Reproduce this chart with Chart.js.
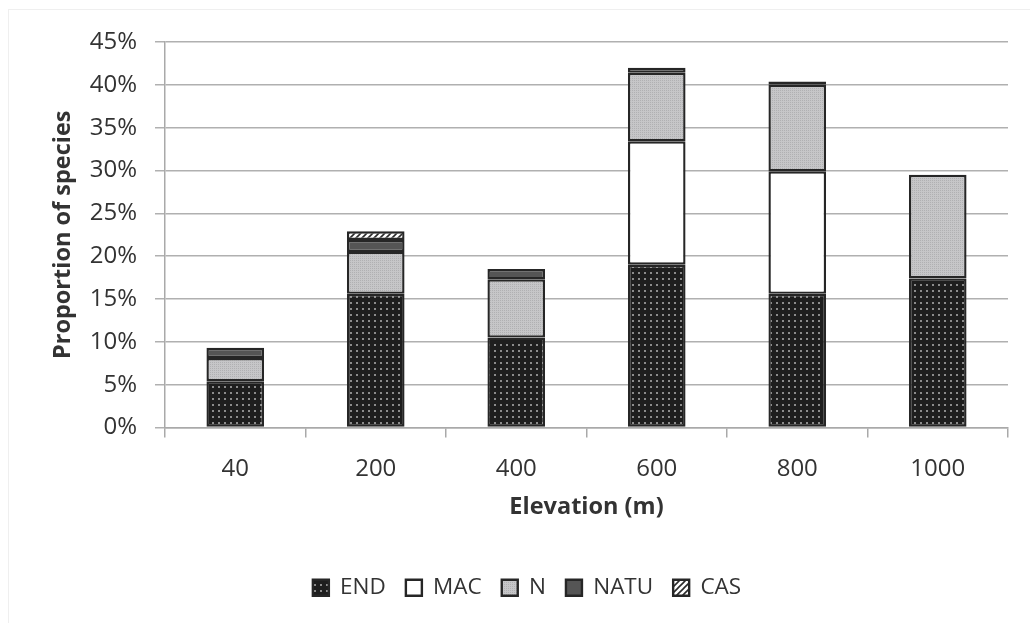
<!DOCTYPE html>
<html>
<head>
<meta charset="utf-8">
<title>Proportion of species by elevation</title>
<script src="https://cdn.jsdelivr.net/npm/chart.js@4.4.1/dist/chart.umd.min.js"></script>
<style>
    html, body { margin: 0; padding: 0; background: #fff; }
    #wrap { position: relative; width: 1030px; height: 623px; }
    #frame {
        position: absolute; left: 8px; top: 9px; right: -10px; bottom: -10px;
        border-top: 1px solid #efefef; border-left: 1px solid #efefef;
        pointer-events: none;
    }
    canvas { display: block; }
</style>
</head>
<body>
<div id="wrap">
    <canvas id="chart" width="1030" height="623"></canvas>
    <div id="frame"></div>
</div>
<script>
// Data (percent of species)
const elevations = ['40', '200', '400', '600', '800', '1000'];
const endValues  = [5.4, 15.6, 10.5, 19.0, 15.6, 17.4];
const macValues  = [0, 0, 0, 14.4, 14.3, 0];
const nValues    = [2.7, 4.9, 6.8, 8.0, 10.1, 12.1];
const natuValues = [1.2, 1.4, 1.2, 0.6, 0.4, 0];
const casValues  = [0, 1.0, 0, 0, 0, 0];
const yTicks     = [0, 5, 10, 15, 20, 25, 30, 35, 40, 45];

const FONT = '"Open Sans", "Liberation Sans", sans-serif';
const TEXT = '#333333';
const EDGE = '#262626';

/**
 * Build a small repeating canvas pattern
 */
function makePattern(size, draw) {
    const c = document.createElement('canvas');
    c.width = size;
    c.height = size;
    draw(c.getContext('2d'), size);
    return c.getContext('2d').createPattern(c, 'repeat');
}

// END: black with grey dots
const endFill = makePattern(6, (g, s) => {
    g.fillStyle = '#1e1e1e';
    g.fillRect(0, 0, s, s);
    g.fillStyle = '#8c8c8c';
    g.fillRect(2, 2, 2, 2);
});

// N: light grey with a fine texture
const nFill = makePattern(2, (g, s) => {
    g.fillStyle = '#c6c6c8';
    g.fillRect(0, 0, s, s);
    g.fillStyle = '#b0b0b2';
    g.fillRect(0, 0, 1, 1);
});

// CAS: diagonal hatch
const casFill = makePattern(6, (g, s) => {
    g.fillStyle = '#ffffff';
    g.fillRect(0, 0, s, s);
    g.strokeStyle = '#2a2a2a';
    g.lineWidth = 1.6;
    g.beginPath();
    g.moveTo(-1, s + 1); g.lineTo(s + 1, -1);
    g.moveTo(-1, 1); g.lineTo(1, -1);
    g.moveTo(s - 1, s + 1); g.lineTo(s + 1, s - 1);
    g.stroke();
});

const ctx = document.getElementById('chart').getContext('2d');

new Chart(ctx, {
    type: 'bar',
    data: {
        labels: elevations,
        datasets: [
            { label: 'END',  data: endValues,  backgroundColor: endFill },
            { label: 'MAC',  data: macValues,  backgroundColor: '#ffffff' },
            { label: 'N',    data: nValues,    backgroundColor: nFill },
            { label: 'NATU', data: natuValues, backgroundColor: '#555555' },
            { label: 'CAS',  data: casValues,  backgroundColor: casFill }
        ].map(ds => Object.assign(ds, {
            borderColor: EDGE,
            borderWidth: 2.4,
            borderSkipped: false,
            categoryPercentage: 1,
            barPercentage: 0.41
        }))
    },
    options: {
        responsive: false,
        animation: false,
        devicePixelRatio: 1,
        layout: {
            padding: { left: 46, right: 22, top: 42, bottom: 14 }
        },
        scales: {
            x: {
                stacked: true,
                grid: {
                    offset: true,
                    drawOnChartArea: false,
                    color: '#a9a9a9',
                    lineWidth: 1.5,
                    tickLength: 10
                },
                border: { color: '#a9a9a9', width: 1.5 },
                ticks: {
                    color: TEXT,
                    padding: 17,
                    font: { family: FONT, size: 24 }
                },
                title: {
                    display: true,
                    text: 'Elevation (m)',
                    color: TEXT,
                    padding: { top: 4, bottom: 35 },
                    font: { family: FONT, size: 23.5, weight: 'bold' }
                },
                afterFit: scale => { scale.height = 129; }
            },
            y: {
                stacked: true,
                min: 0,
                max: 45,
                afterBuildTicks: scale => {
                    scale.ticks = yTicks.map(v => ({ value: v }));
                },
                grid: {
                    color: '#b0b0b0',
                    lineWidth: 1.5,
                    tickLength: 10
                },
                border: { color: '#a9a9a9', width: 1.5 },
                ticks: {
                    color: TEXT,
                    padding: 18,
                    font: { family: FONT, size: 24 },
                    callback: value => value + '%'
                },
                title: {
                    display: true,
                    text: 'Proportion of species',
                    color: TEXT,
                    padding: { top: 3, bottom: 0 },
                    font: { family: FONT, size: 23.5, weight: 'bold' }
                },
                afterFit: scale => { scale.width = 119; }
            }
        },
        plugins: {
            legend: {
                position: 'bottom',
                labels: {
                    color: TEXT,
                    boxWidth: 16,
                    boxHeight: 16,
                    padding: 20,
                    font: { family: FONT, size: 22.5 }
                }
            },
            tooltip: { enabled: false }
        }
    }
});
</script>
</body>
</html>
